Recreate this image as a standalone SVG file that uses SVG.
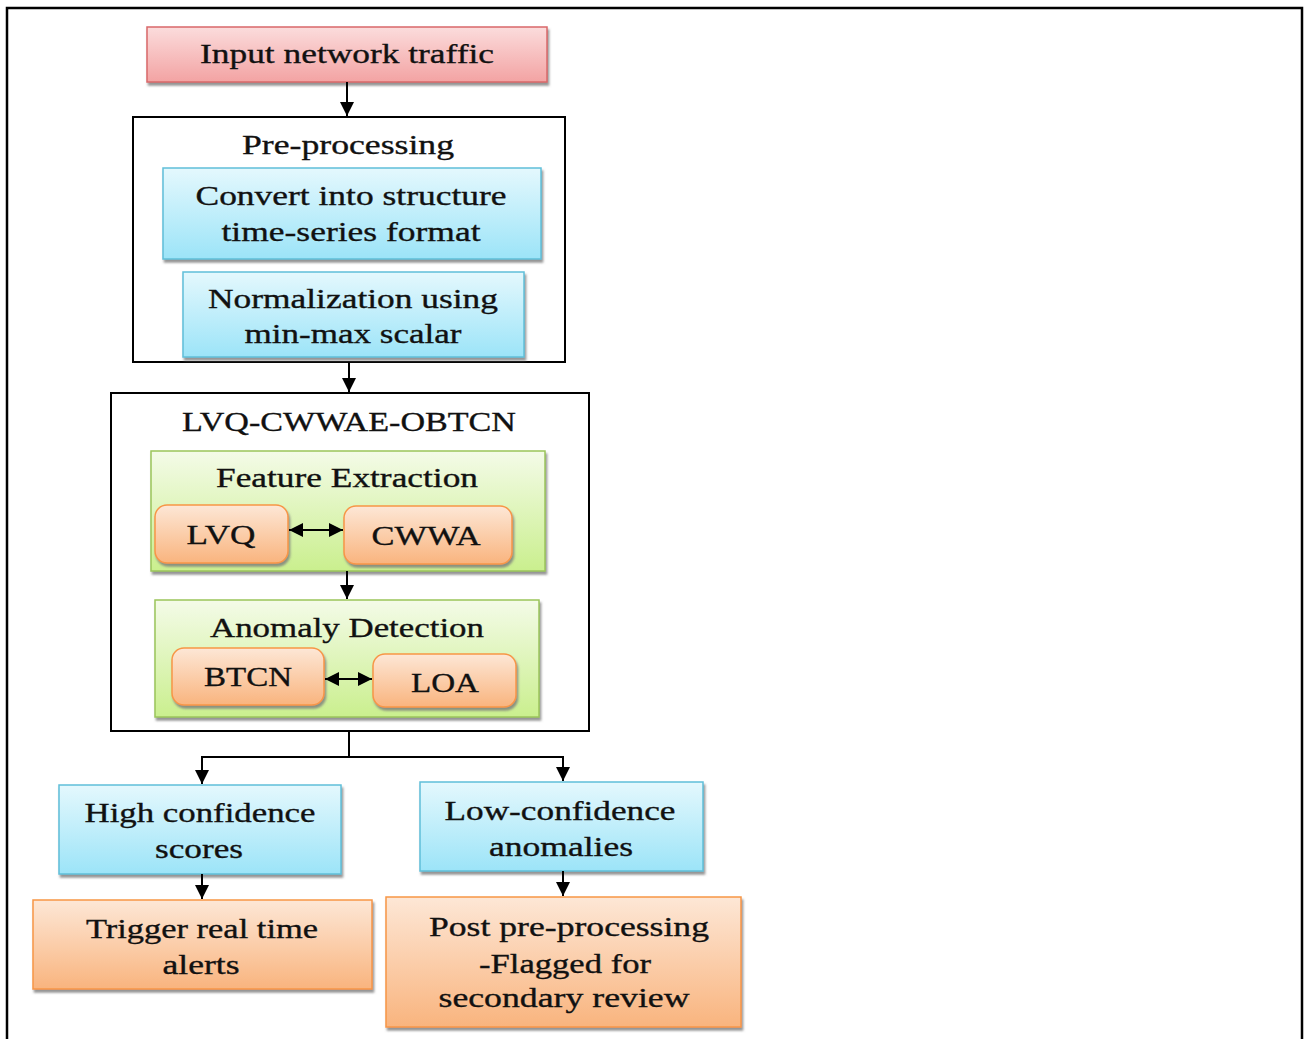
<svg xmlns="http://www.w3.org/2000/svg" width="1304" height="1039" viewBox="0 0 1304 1039">
<style>
.t{font-family:"Liberation Serif","Times New Roman",serif;font-size:28px;fill:#111;text-anchor:middle;stroke:#111;stroke-width:0.35}
.frame{fill:#fff;stroke:#000;stroke-width:2}
.red{fill:url(#gRed);stroke:#d9686a;stroke-width:1.5}
.blue{fill:url(#gBlue);stroke:#5fbfd9;stroke-width:1.5}
.green{fill:url(#gGreen);stroke:#9bc55a;stroke-width:1.5}
.orange{fill:url(#gOrange);stroke:#f79646;stroke-width:1.5}
.conn{fill:none;stroke:#000;stroke-width:2}
</style>
<defs>
<linearGradient id="gRed" x1="0" y1="0" x2="0" y2="1"><stop offset="0" stop-color="#fbdcdc"/><stop offset="1" stop-color="#f3a3a3"/></linearGradient>
<linearGradient id="gBlue" x1="0" y1="0" x2="0" y2="1"><stop offset="0" stop-color="#e4f8fd"/><stop offset="1" stop-color="#9ce4f8"/></linearGradient>
<linearGradient id="gGreen" x1="0" y1="0" x2="0" y2="1"><stop offset="0" stop-color="#f4fbe8"/><stop offset="1" stop-color="#caef8e"/></linearGradient>
<linearGradient id="gOrange" x1="0" y1="0" x2="0" y2="1"><stop offset="0" stop-color="#fde7d6"/><stop offset="1" stop-color="#f9b47e"/></linearGradient>
<filter id="sh" x="-10%" y="-10%" width="120%" height="130%"><feDropShadow dx="1.5" dy="3" stdDeviation="1" flood-color="#7a7a7a" flood-opacity="0.8"/></filter>
<marker id="ah" viewBox="0 0 10 10" refX="10" refY="5" markerWidth="7" markerHeight="7" orient="auto-start-reverse" markerUnits="strokeWidth"><path d="M0,0 L10,5 L0,10 z" fill="#000"/></marker>
</defs>
<rect width="1304" height="1039" fill="#fff"/>
<path d="M7,1039 V8 H1302 V1039" fill="none" stroke="#000" stroke-width="2.5"/>

<g id="n-input"><rect class="red" filter="url(#sh)" x="147" y="27" width="400" height="55"/><text class="t" x="347" y="63" textLength="294" lengthAdjust="spacingAndGlyphs">Input network traffic</text></g>

<g id="n-preprocessing"><rect class="frame" x="133" y="117" width="432" height="245"/><text class="t" x="348" y="154" textLength="212" lengthAdjust="spacingAndGlyphs">Pre-processing</text></g>
<g id="n-convert"><rect class="blue" filter="url(#sh)" x="163" y="168" width="378" height="91"/><text class="t" x="351" y="205" textLength="311" lengthAdjust="spacingAndGlyphs">Convert into structure</text><text class="t" x="351" y="241" textLength="259" lengthAdjust="spacingAndGlyphs">time-series format</text></g>
<g id="n-normalization"><rect class="blue" filter="url(#sh)" x="183" y="272" width="341" height="85"/><text class="t" x="353" y="308" textLength="290" lengthAdjust="spacingAndGlyphs">Normalization using</text><text class="t" x="353" y="343" textLength="217" lengthAdjust="spacingAndGlyphs">min-max scalar</text></g>

<g id="n-lvqcwwae"><rect class="frame" x="111" y="393" width="478" height="338"/><text class="t" x="349" y="431" textLength="334" lengthAdjust="spacingAndGlyphs">LVQ-CWWAE-OBTCN</text></g>
<g id="n-feature"><rect class="green" filter="url(#sh)" x="151" y="451" width="394" height="120"/><text class="t" x="347" y="487" textLength="262" lengthAdjust="spacingAndGlyphs">Feature Extraction</text></g>
<g id="n-lvq"><rect class="orange" filter="url(#sh)" x="155" y="505" width="133" height="58" rx="12"/><text class="t" x="221" y="544" textLength="69" lengthAdjust="spacingAndGlyphs">LVQ</text></g>
<g id="n-cwwa"><rect class="orange" filter="url(#sh)" x="344" y="506" width="168" height="58" rx="12"/><text class="t" x="426" y="545" textLength="109" lengthAdjust="spacingAndGlyphs">CWWA</text></g>
<g id="n-anomaly"><rect class="green" filter="url(#sh)" x="155" y="600" width="384" height="117"/><text class="t" x="347" y="637" textLength="274" lengthAdjust="spacingAndGlyphs">Anomaly Detection</text></g>
<g id="n-btcn"><rect class="orange" filter="url(#sh)" x="172" y="648" width="152" height="57" rx="12"/><text class="t" x="248" y="686" textLength="88" lengthAdjust="spacingAndGlyphs">BTCN</text></g>
<g id="n-loa"><rect class="orange" filter="url(#sh)" x="373" y="654" width="143" height="53" rx="12"/><text class="t" x="445" y="692" textLength="68" lengthAdjust="spacingAndGlyphs">LOA</text></g>

<g id="n-high"><rect class="blue" filter="url(#sh)" x="59" y="785" width="282" height="89"/><text class="t" x="200" y="822" textLength="231" lengthAdjust="spacingAndGlyphs">High confidence</text><text class="t" x="199" y="858" textLength="88" lengthAdjust="spacingAndGlyphs">scores</text></g>
<g id="n-low"><rect class="blue" filter="url(#sh)" x="420" y="782" width="283" height="89"/><text class="t" x="560" y="820" textLength="231" lengthAdjust="spacingAndGlyphs">Low-confidence</text><text class="t" x="561" y="856" textLength="144" lengthAdjust="spacingAndGlyphs">anomalies</text></g>
<g id="n-trigger"><rect class="orange" filter="url(#sh)" x="33" y="900" width="339" height="89"/><text class="t" x="202" y="938" textLength="232" lengthAdjust="spacingAndGlyphs">Trigger real time</text><text class="t" x="201" y="974" textLength="77" lengthAdjust="spacingAndGlyphs">alerts</text></g>
<g id="n-post"><rect class="orange" filter="url(#sh)" x="386" y="897" width="355" height="130"/><text class="t" x="569" y="936" textLength="280" lengthAdjust="spacingAndGlyphs">Post pre-processing</text><text class="t" x="565" y="973" textLength="172" lengthAdjust="spacingAndGlyphs">-Flagged for</text><text class="t" x="564" y="1007" textLength="251" lengthAdjust="spacingAndGlyphs">secondary review</text></g>

<g id="connectors">
<path class="conn" d="M347,82 V116" marker-end="url(#ah)"/>
<path class="conn" d="M349,362 V392" marker-end="url(#ah)"/>
<path class="conn" d="M347,571 V599" marker-end="url(#ah)"/>
<path class="conn" d="M289,530 H343" marker-start="url(#ah)" marker-end="url(#ah)"/>
<path class="conn" d="M325,679 H372" marker-start="url(#ah)" marker-end="url(#ah)"/>
<path class="conn" d="M349,731 V757 H202 V784" marker-end="url(#ah)"/>
<path class="conn" d="M349,757 H563 V781" marker-end="url(#ah)"/>
<path class="conn" d="M202,874 V899" marker-end="url(#ah)"/>
<path class="conn" d="M563,871 V896" marker-end="url(#ah)"/>
</g>
</svg>
